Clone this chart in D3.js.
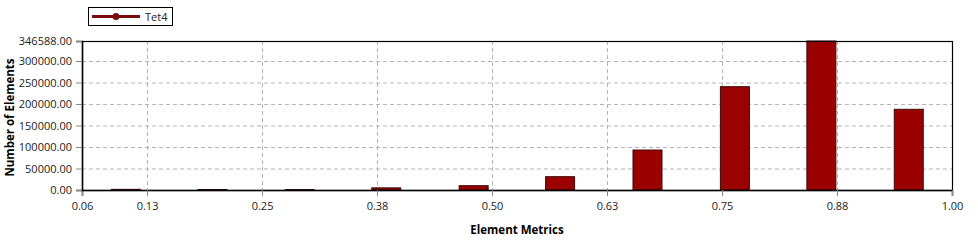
<!DOCTYPE html>
<html>
<head>
<meta charset="utf-8">
<script src="https://cdn.jsdelivr.net/npm/d3@7"></script>
<style>
  body { margin: 0; background: #fff; }
  svg text { font-family: "Open Sans", "Noto Sans", sans-serif; }
</style>
</head>
<body>
<svg id="chart" width="978" height="242"></svg>
<script>
// bins of the element quality histogram
let binCenters = [0.102, 0.196, 0.291, 0.385, 0.480, 0.574, 0.669, 0.764, 0.858, 0.953],
    counts = [1500, 1200, 1000, 5000, 10000, 31000, 93000, 240300, 346588, 187700],
    xTicks = [0.0543, 0.125, 0.25, 0.375, 0.5, 0.625, 0.75, 0.875, 1.0],
    xTickLabels = ['0.06', '0.13', '0.25', '0.38', '0.50', '0.63', '0.75', '0.88', '1.00'],
    yTicks = [0, 50000, 100000, 150000, 200000, 250000, 300000, 346588],
    seriesName = 'Tet4';

let margin = {left: 82, right: 26, top: 41, bottom: 52},
    W = 978, H = 242,
    innerW = W - margin.left - margin.right,
    innerH = H - margin.top - margin.bottom;

let svg = d3.select('#chart');

let x = d3.scaleLinear().domain([xTicks[0], 1.0]).range([0, innerW]),
    y = d3.scaleLinear().domain([0, 346588]).range([innerH, 0]);

let binW = (1.0 - xTicks[0]) / binCenters.length,
    barW = (x(binW) - x(0)) / 3;

let g = svg.append('g').attr('transform', `translate(${margin.left},${margin.top})`);

// grid
g.selectAll('.hgrid')
 .data(yTicks.slice(1, -1))
 .enter().append('line')
 .attr('x1', 0).attr('x2', innerW)
 .attr('y1', d => y(d) + 0.5).attr('y2', d => y(d) + 0.5)
 .attr('stroke', '#b4b4b4').attr('stroke-dasharray', '4,3');

g.selectAll('.vgrid')
 .data(xTicks.slice(1, -1))
 .enter().append('line')
 .attr('y1', 0).attr('y2', innerH)
 .attr('x1', d => Math.round(x(d)) + 0.5).attr('x2', d => Math.round(x(d)) + 0.5)
 .attr('stroke', '#b4b4b4').attr('stroke-dasharray', '4,3');

// bars
g.selectAll('rect.bar')
 .data(binCenters)
 .enter().append('rect')
 .attr('class', 'bar')
 .attr('x', d => x(d) - barW / 2)
 .attr('width', barW)
 .attr('y', (d, i) => y(counts[i]))
 .attr('height', (d, i) => innerH - y(counts[i]))
 .attr('fill', '#9b0000')
 .attr('stroke', '#3a0a0a')
 .attr('stroke-width', 1);

// frame
g.append('rect')
 .attr('x', 0.5).attr('y', 0.5)
 .attr('width', innerW).attr('height', innerH)
 .attr('fill', 'none').attr('stroke', '#000').attr('stroke-width', 1.2);

// axes
let xAxis = d3.axisBottom(x)
    .tickValues(xTicks)
    .tickFormat((d, i) => xTickLabels[i])
    .tickSize(6).tickPadding(6);

let xg = g.append('g').attr('transform', `translate(0,${innerH})`).call(xAxis);
xg.select('.domain').attr('stroke', '#000').attr('stroke-width', 1.5);
xg.selectAll('.tick line').attr('stroke', '#888');
xg.selectAll('text').attr('font-size', 11).attr('fill', '#222');

let yAxis = d3.axisLeft(y)
    .tickValues(yTicks)
    .tickFormat(d => d.toFixed(2))
    .tickSize(6).tickPadding(4);

let yg = g.append('g').call(yAxis);
yg.select('.domain').attr('stroke', '#000').attr('stroke-width', 1.5);
yg.selectAll('.tick line').attr('stroke', '#888');
yg.selectAll('text').attr('font-size', 11).attr('fill', '#222');

// titles
svg.append('text')
 .attr('x', 517).attr('y', 234)
 .attr('text-anchor', 'middle')
 .attr('font-size', 11.5).attr('font-weight', 'bold')
 .text('Element Metrics');

svg.append('text')
 .attr('transform', `translate(14,${margin.top + innerH / 2 + 2}) rotate(-90)`)
 .attr('text-anchor', 'middle')
 .attr('font-size', 11.5).attr('font-weight', 'bold')
 .text('Number of Elements');

// legend
let lg = svg.append('g').attr('transform', 'translate(88,7)');
lg.append('rect')
 .attr('x', 0.5).attr('y', 0.5).attr('width', 84).attr('height', 18)
 .attr('fill', '#fff').attr('stroke', '#000');
lg.append('line')
 .attr('x1', 4).attr('x2', 52).attr('y1', 9.5).attr('y2', 9.5)
 .attr('stroke', '#7a0c0c').attr('stroke-width', 3);
lg.append('circle')
 .attr('cx', 28).attr('cy', 9.5).attr('r', 3.5)
 .attr('fill', '#7a0c0c');
lg.append('text')
 .attr('x', 57).attr('y', 14)
 .attr('font-size', 11).attr('fill', '#222')
 .text(seriesName);
</script>
</body>
</html>
